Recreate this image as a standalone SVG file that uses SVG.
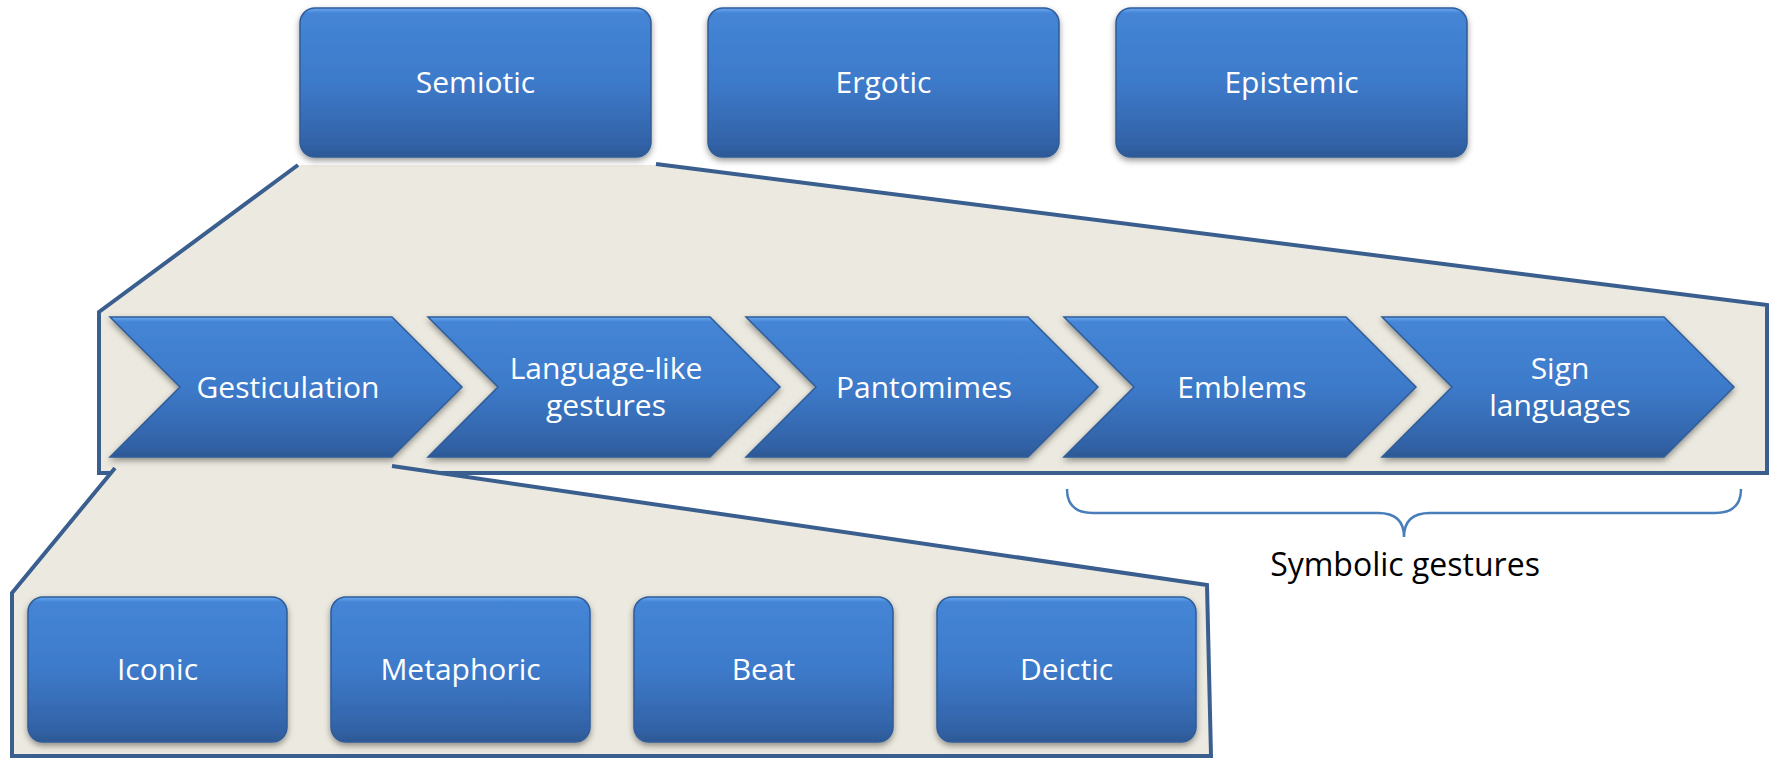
<svg xmlns="http://www.w3.org/2000/svg" xmlns:xlink="http://www.w3.org/1999/xlink" width="1770" height="759" viewBox="0 0 1770 759">
<style>
.t{font-family:"Open Sans","Liberation Sans",sans-serif;font-size:30px;fill:#ffffff;text-anchor:middle}
.lbl{font-family:"Open Sans","Liberation Sans",sans-serif;font-size:32px;fill:#000000;text-anchor:middle}
.box{fill:url(#gb);stroke:#2f5c98;stroke-width:1.5;filter:url(#sh)}
.chev{fill:url(#gb);stroke:#2f5c98;stroke-width:1.5;filter:url(#sh)}
.zone{fill:#ECEAE0;stroke:none}
.edge{fill:none;stroke:#3A5F8F;stroke-width:4;stroke-linejoin:miter}
.brace{fill:none;stroke:#4A7EBB;stroke-width:2.5}
</style>
<defs>
<linearGradient id="gb" x1="0" y1="0" x2="0" y2="1">
<stop offset="0" stop-color="#69a8f0"/>
<stop offset="0.035" stop-color="#4585d6"/>
<stop offset="0.5" stop-color="#3d7aca"/>
<stop offset="0.92" stop-color="#3262a6"/>
<stop offset="1" stop-color="#2c5894"/>
</linearGradient>
<filter id="sh" x="-10%" y="-10%" width="120%" height="130%">
<feDropShadow dx="0" dy="3" stdDeviation="3" flood-color="#000" flood-opacity="0.4"/>
</filter>
<path id="chevShape" d="M0,317 L282,317 L352,387 L282,457 L0,457 L70,387 Z"/>
</defs>

<g id="connectors">
<polygon class="zone" points="298,165 656,165 1767,305 1767,473 99,473 99,312"/>
<polyline class="edge" points="298,165 99,312 99,473 1767,473 1767,305 656,164"/>
<polygon class="zone" points="115,466 392,466 1208,585 1212,756 12,756 12,593"/>
<polyline class="edge" points="115,468 12,593 12,756 1211,756 1207,585 392,466"/>
<path class="brace" d="M1067,489 Q1067,513 1093,513 L1378,513 Q1404,513 1404,537 Q1404,513 1430,513 L1715,513 Q1741,513 1741,489"/>
</g>

<g id="semiotic"><rect class="box" x="300" y="8" width="351" height="149" rx="15"/><text class="t" x="475.5" y="93">Semiotic</text></g>
<g id="ergotic"><rect class="box" x="708" y="8" width="351" height="149" rx="15"/><text class="t" x="883.5" y="93">Ergotic</text></g>
<g id="epistemic"><rect class="box" x="1116" y="8" width="351" height="149" rx="15"/><text class="t" x="1291.5" y="93">Epistemic</text></g>

<g id="gesticulation"><use class="chev" xlink:href="#chevShape" x="110"/><text class="t" x="288" y="398">Gesticulation</text></g>
<g id="language-like"><use class="chev" xlink:href="#chevShape" x="428"/><text class="t" x="606" y="379">Language-like</text><text class="t" x="606" y="416">gestures</text></g>
<g id="pantomimes"><use class="chev" xlink:href="#chevShape" x="746"/><text class="t" x="924" y="398">Pantomimes</text></g>
<g id="emblems"><use class="chev" xlink:href="#chevShape" x="1064"/><text class="t" x="1242" y="398">Emblems</text></g>
<g id="sign-languages"><use class="chev" xlink:href="#chevShape" x="1382"/><text class="t" x="1560" y="379">Sign</text><text class="t" x="1560" y="416">languages</text></g>

<g id="symbolic-gestures"><text class="lbl" x="1405" y="576">Symbolic gestures</text></g>

<g id="iconic"><rect class="box" x="28" y="597" width="259" height="145" rx="15"/><text class="t" x="157.5" y="680">Iconic</text></g>
<g id="metaphoric"><rect class="box" x="331" y="597" width="259" height="145" rx="15"/><text class="t" x="460.5" y="680">Metaphoric</text></g>
<g id="beat"><rect class="box" x="634" y="597" width="259" height="145" rx="15"/><text class="t" x="763.5" y="680">Beat</text></g>
<g id="deictic"><rect class="box" x="937" y="597" width="259" height="145" rx="15"/><text class="t" x="1066.5" y="680">Deictic</text></g>
</svg>
